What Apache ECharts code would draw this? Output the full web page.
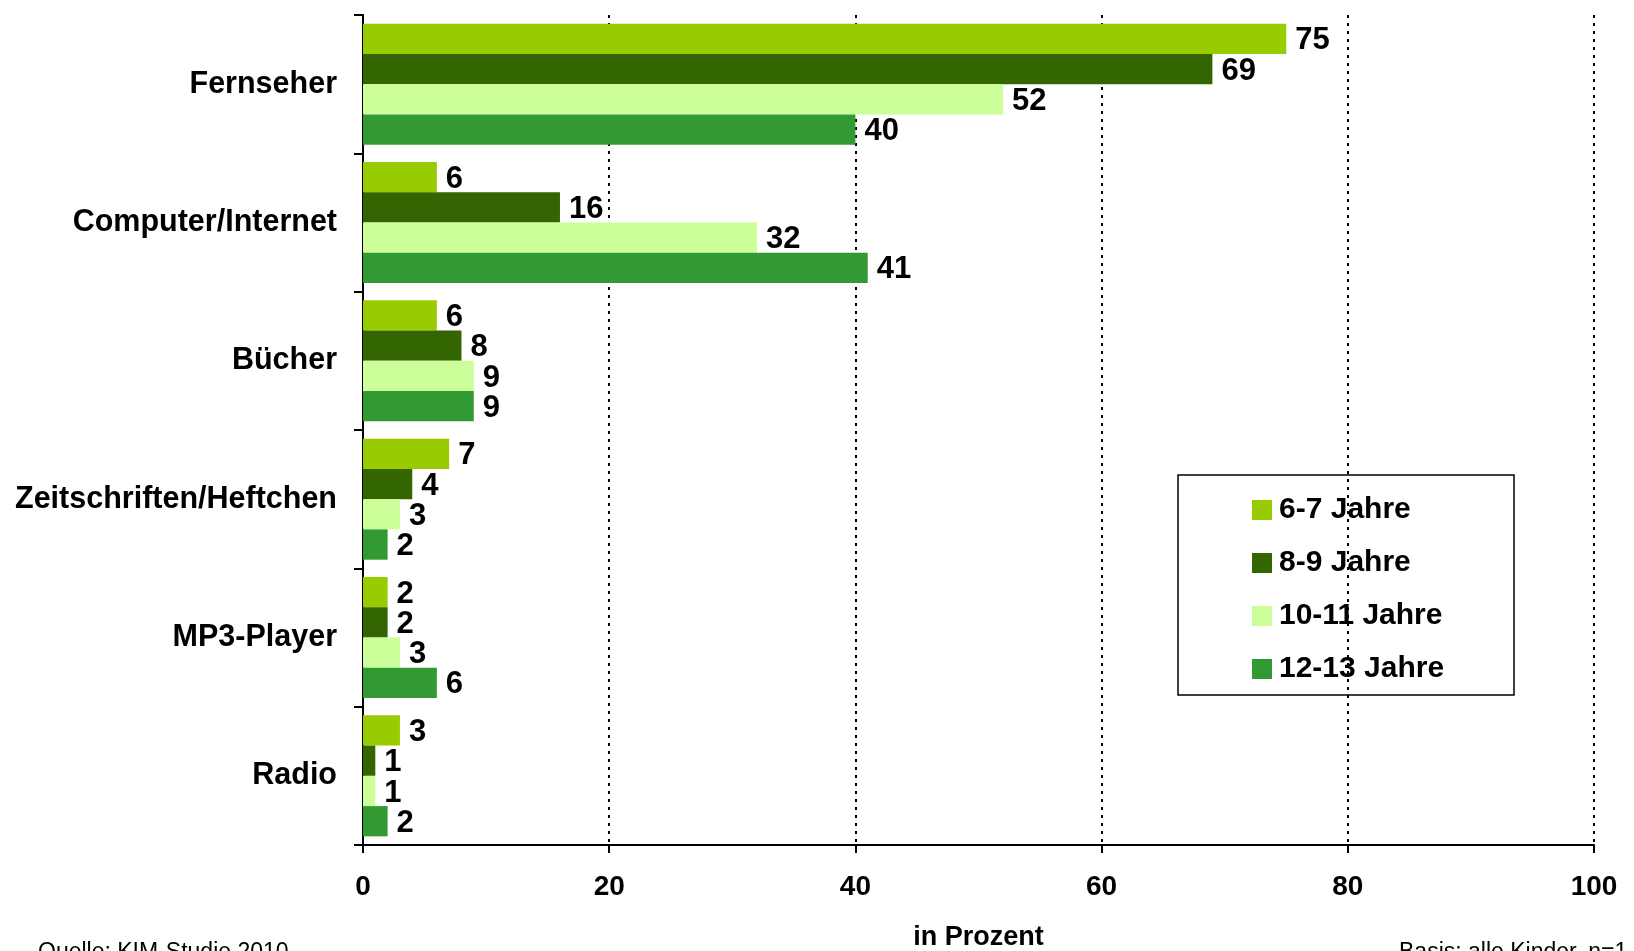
<!DOCTYPE html>
<html>
<head>
<meta charset="utf-8">
<script src="https://cdn.jsdelivr.net/npm/echarts@6/dist/echarts.min.js"></script>
<style>
html,body{margin:0;padding:0;background:#fff;}
#chart{width:1634px;height:951px;}
</style>
</head>
<body>
<div id="chart"></div>
<script>
const categories = ['Fernseher', 'Computer/Internet', 'Bücher', 'Zeitschriften/Heftchen', 'MP3-Player', 'Radio'];
const seriesNames = ['6-7 Jahre', '8-9 Jahre', '10-11 Jahre', '12-13 Jahre'];
const s67 = [75, 6, 6, 7, 2, 3];
const s89 = [69, 16, 8, 4, 2, 1];
const s1011 = [52, 32, 9, 3, 3, 1];
const s1213 = [40, 41, 9, 2, 6, 2];
const colors = ['#99CC00', '#336600', '#CCFF99', '#339933'];
const xTicks = [0, 20, 40, 60, 80, 100];
const axisTitle = 'in Prozent';
const sourceText = 'Quelle: KIM-Studie 2010';
const baseText = 'Basis: alle Kinder, n=1.214';

const FONT = '"Liberation Sans", Arial, sans-serif';
const values = [s67, s89, s1011, s1213];

const chart = echarts.init(document.getElementById('chart'), null, {renderer: 'canvas'});
chart.setOption({
  animation: false,
  backgroundColor: '#ffffff',
  textStyle: {fontFamily: FONT},
  grid: {left: 363, right: 40, top: 15, bottom: 106, containLabel: false, outerBoundsMode: 'none'},
  xAxis: {
    type: 'value', min: xTicks[0], max: xTicks[xTicks.length - 1], interval: 20,
    axisLine: {show: true, lineStyle: {color: '#000', width: 2}},
    axisTick: {show: true, length: 8, lineStyle: {color: '#000', width: 2}},
    axisLabel: {margin: 28, fontSize: 28, fontWeight: 'bold', color: '#000', fontFamily: FONT},
    splitLine: {show: true, lineStyle: {color: '#000', width: 2, type: [3, 5]}},
    name: axisTitle, nameLocation: 'middle', nameGap: 79,
    nameTextStyle: {fontSize: 27, fontWeight: 'bold', color: '#000', fontFamily: FONT}
  },
  yAxis: {
    type: 'category', data: categories, inverse: true,
    axisLine: {show: true, lineStyle: {color: '#000', width: 2}},
    axisTick: {show: true, length: 9, lineStyle: {color: '#000', width: 2}},
    axisLabel: {margin: 26, fontSize: 30.5, fontWeight: 'bold', color: '#000', fontFamily: FONT},
    splitLine: {show: false}
  },
  legend: {
    show: true, orient: 'vertical', left: 1247, top: 490,
    data: seriesNames, icon: 'rect', itemWidth: 20, itemHeight: 20, itemGap: 23,
    textStyle: {fontSize: 30, fontWeight: 'bold', color: '#000', fontFamily: FONT, padding: [0, 0, 0, 2]},
    selectedMode: false
  },
  graphic: [
    {type: 'rect', shape: {x: 1178, y: 475, width: 336, height: 220}, style: {fill: 'none', stroke: '#000', lineWidth: 1.5}, z: 100},
    {type: 'text', left: 38, top: 941, style: {text: sourceText, font: '23px ' + FONT, fill: '#000'}},
    {type: 'text', left: 1399, top: 941, style: {text: baseText, font: '23px ' + FONT, fill: '#000'}}
  ],
  series: seriesNames.map((name, i) => ({
    name: name, type: 'bar', data: values[i],
    barGap: '0%', barCategoryGap: '12.5%',
    itemStyle: {color: colors[i]},
    label: {show: true, position: 'right', distance: 9, offset: [0, 2], fontSize: 31, fontWeight: 'bold', color: '#000', fontFamily: FONT}
  }))
});
</script>
</body>
</html>
